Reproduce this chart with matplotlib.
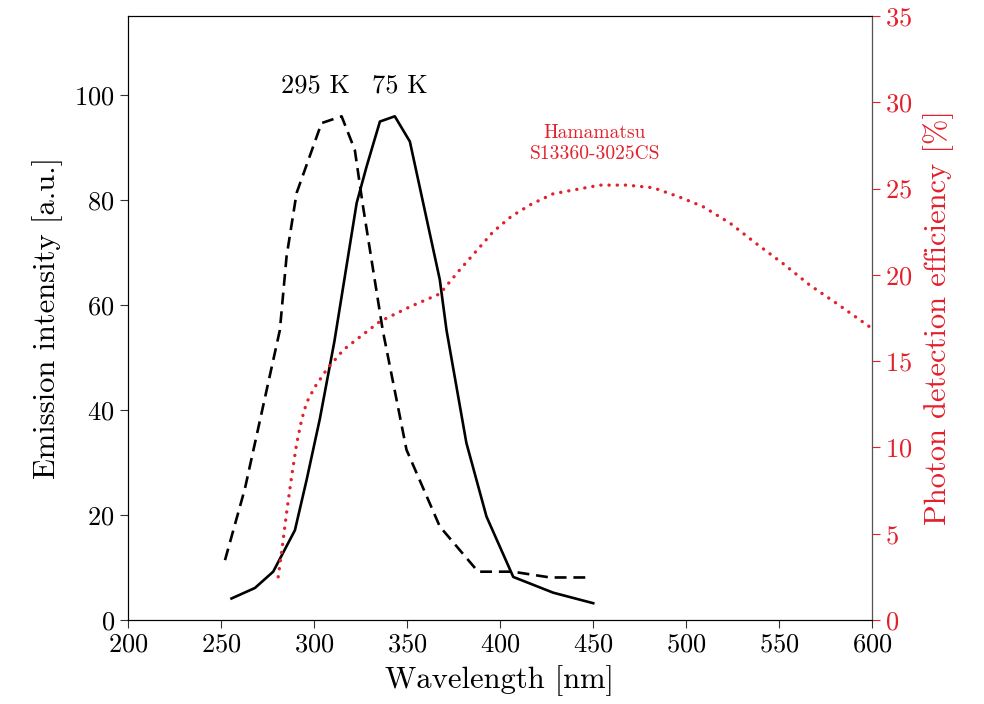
import matplotlib
matplotlib.use("Agg")
import matplotlib.pyplot as plt

plt.rcParams['font.family'] = 'serif'
plt.rcParams['font.serif'] = ['cmr10', 'DejaVu Serif']
plt.rcParams['mathtext.fontset'] = 'cm'
plt.rcParams['axes.formatter.use_mathtext'] = True

# emission spectrum at 75 K (solid)
wl_75k = [255.7, 268.3, 278.1, 289.8, 296.1, 303.2, 311.0, 323.0, 328.3, 335.5,
          343.5, 351.6, 367.7, 371.3, 382.0, 392.8, 407.2, 428.7, 450.2]
em_75k = [4.1, 6.1, 9.2, 17.1, 26.7, 38.3, 53.0, 79.4, 86.3, 94.9,
          95.9, 91.1, 64.8, 55.2, 33.7, 19.7, 8.2, 5.2, 3.2]

# emission spectrum at 295 K (dashed)
wl_295k = [252.2, 262.9, 281.7, 285.3, 290.7, 304.1, 314.9, 322.0, 326.3, 337.0,
           349.8, 367.7, 388.3, 407.0, 427.0, 449.0]
em_295k = [11.4, 25.0, 55.2, 69.2, 81.3, 94.6, 95.9, 89.5, 79.0, 55.2,
           32.4, 17.8, 9.2, 9.2, 8.1, 8.1]

# photon detection efficiency of the SiPM (dotted, right axis)
wl_pde = [280.8, 282.6, 285.3, 288.0, 290.7, 293.4, 296.1, 300.5, 306.8, 315.8,
          324.7, 335.5, 351.6, 367.7, 378.5, 387.5, 396.4, 406.3, 417.0, 428.7,
          441.2, 453.8, 468.1, 482.4, 496.8, 509.3, 523.7, 538.0, 552.3, 566.7,
          581.0, 600.0]
pde = [2.5, 3.9, 6.2, 8.3, 10.2, 11.6, 12.6, 13.5, 14.5, 15.65,
       16.4, 17.3, 18.15, 18.9, 20.3, 21.4, 22.5, 23.4, 24.1, 24.7,
       24.95, 25.2, 25.2, 25.05, 24.5, 23.95, 23.0, 21.8, 20.65, 19.4,
       18.35, 16.9]

red = '#e3202b'

fig = plt.figure(figsize=(9.84, 7.04), dpi=100)
ax = fig.add_axes([0.130, 0.1193, 0.756, 0.858])
ax.plot(wl_295k, em_295k, color='black', lw=1.9, linestyle=(0, (4.5, 2.6)))
ax.plot(wl_75k, em_75k, color='black', lw=1.9)
ax.set_xlim(200, 600)
ax.set_ylim(0, 115)
ax.set_xticks(range(200, 601, 50))
ax.set_yticks(range(0, 101, 20))
ax.tick_params(labelsize=19, direction='out', length=6, color='#333333')
ax.set_xlabel('Wavelength [nm]', fontsize=22, labelpad=6)
ax.set_ylabel('Emission intensity [a.u.]', fontsize=22, labelpad=8)
ax.text(301, 99.5, '295 K', fontsize=19, ha='center', va='bottom')
ax.text(346, 99.5, '75 K', fontsize=19, ha='center', va='bottom')

ax2 = ax.twinx()
ax2.plot(wl_pde, pde, color=red, lw=2.4, linestyle=(0, (0.05, 2.4)),
         dash_capstyle='round')
ax2.set_ylim(0, 35)
ax2.set_yticks(range(0, 36, 5))
ax2.tick_params(axis='y', colors=red, labelsize=19, direction='out', length=6)
ax2.spines['right'].set_color('#555555')
ax2.set_ylabel('Photon detection efficiency [%]', fontsize=22, color=red,
               labelpad=8)
ax2.text(451, 27.6, 'Hamamatsu\nS13360-3025CS', fontsize=14, color=red,
         ha='center', va='center', linespacing=1.2)

fig.savefig('out.png', dpi=100)
